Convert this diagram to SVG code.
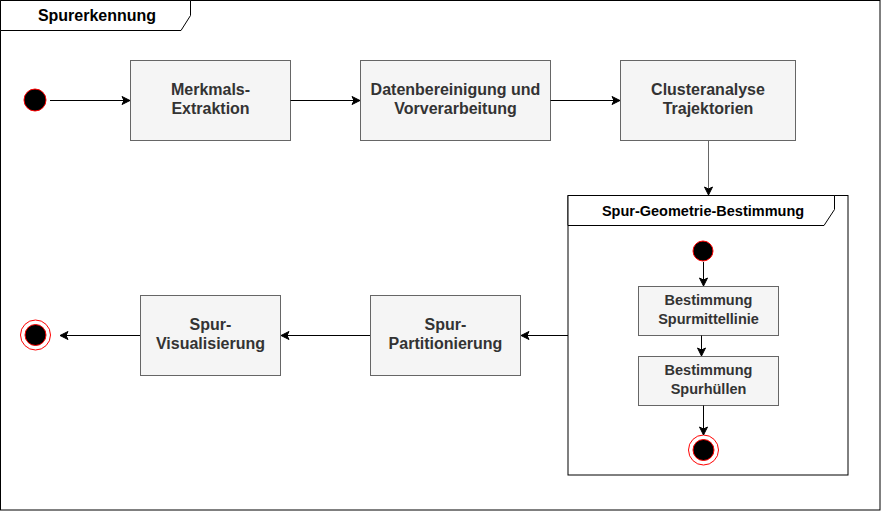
<svg xmlns="http://www.w3.org/2000/svg" width="881" height="511" viewBox="0 0 881 511">
<defs>
<style>
.frame{fill:#fff;stroke:#000;stroke-width:1}
.tab{fill:#fff;stroke:#000;stroke-width:1}
.box{fill:#f5f5f5;stroke:#666;stroke-width:1}
.t{font-family:"Liberation Sans",Arial,sans-serif;font-weight:bold;fill:#333;text-anchor:middle}
.big{font-size:16px}
.small{font-size:14.5px}
.title{font-family:"Liberation Sans",Arial,sans-serif;font-weight:bold;fill:#000;text-anchor:middle}
.edge{fill:none;stroke:#000;stroke-width:1}
.start{fill:#000;stroke:#ff0000;stroke-width:1}
.endo{fill:#fff;stroke:#ff0000;stroke-width:1}
</style>
<marker id="arr" markerWidth="10" markerHeight="10" refX="9" refY="5" orient="auto" markerUnits="userSpaceOnUse">
<path d="M1,1 L9,5 L1,9 L3,5 Z" fill="#000" stroke="#000" stroke-width="1"/>
</marker>
</defs>
<g id="frame-spurerkennung">
<rect class="frame" x="0.5" y="0.5" width="879.5" height="509.5"/>
<path class="tab" d="M0.5,0.5 H190.5 V15.5 L181,30.5 H0.5 Z"/>
<text class="title big" x="97" y="21">Spurerkennung</text>
</g>
<g id="frame-geometrie">
<rect class="frame" x="568" y="195.5" width="280" height="279.5"/>
<path class="tab" d="M568,195.5 H834.5 V209.5 L824,225.5 H568 Z"/>
<text class="title small" x="703" y="216">Spur-Geometrie-Bestimmung</text>
</g>
<g id="start">
<circle class="start" cx="35" cy="100" r="11"/>
</g>
<g id="merkmals">
<rect class="box" x="130.5" y="60.5" width="160" height="80"/>
<text class="t big" x="210.5" y="95">Merkmals-</text>
<text class="t big" x="210.5" y="114">Extraktion</text>
</g>
<g id="daten">
<rect class="box" x="360.5" y="60.5" width="190" height="80"/>
<text class="t big" x="455.5" y="95">Datenbereinigung und</text>
<text class="t big" x="455.5" y="114">Vorverarbeitung</text>
</g>
<g id="cluster">
<rect class="box" x="620.5" y="60.5" width="175" height="80"/>
<text class="t big" x="708" y="95">Clusteranalyse</text>
<text class="t big" x="708" y="114">Trajektorien</text>
</g>
<g id="inner-start">
<circle class="start" cx="703" cy="251" r="10"/>
</g>
<g id="mittellinie">
<rect class="box" x="638.5" y="286.5" width="140" height="49"/>
<text class="t small" x="708.5" y="305">Bestimmung</text>
<text class="t small" x="708.5" y="324">Spurmittellinie</text>
</g>
<g id="huellen">
<rect class="box" x="638.5" y="356.5" width="140" height="49"/>
<text class="t small" x="708.5" y="375">Bestimmung</text>
<text class="t small" x="708.5" y="394">Spurhüllen</text>
</g>
<g id="inner-end">
<circle class="endo" cx="703.5" cy="450" r="15"/>
<circle class="start" cx="703.5" cy="450" r="10.5"/>
</g>
<g id="partitionierung">
<rect class="box" x="370.5" y="295.5" width="150" height="80"/>
<text class="t big" x="445.5" y="330">Spur-</text>
<text class="t big" x="445.5" y="349">Partitionierung</text>
</g>
<g id="visualisierung">
<rect class="box" x="140.5" y="295.5" width="140" height="80"/>
<text class="t big" x="210.5" y="330">Spur-</text>
<text class="t big" x="210.5" y="349">Visualisierung</text>
</g>
<g id="end">
<circle class="endo" cx="35.5" cy="335" r="15"/>
<circle class="start" cx="35.5" cy="335" r="10.5"/>
</g>
<g id="connectors">
<path class="edge" d="M50,100.5 H130" marker-end="url(#arr)"/>
<path class="edge" d="M290.5,100.5 H360" marker-end="url(#arr)"/>
<path class="edge" d="M550.5,100.5 H620" marker-end="url(#arr)"/>
<path class="edge" d="M708.5,140.5 V195" marker-end="url(#arr)" style="stroke:#666"/>
<path class="edge" d="M703.5,262 V286" marker-end="url(#arr)"/>
<path class="edge" d="M701.5,335.5 V356" marker-end="url(#arr)"/>
<path class="edge" d="M703.5,405.5 V435" marker-end="url(#arr)"/>
<path class="edge" d="M568,335.5 H521" marker-end="url(#arr)"/>
<path class="edge" d="M370,335.5 H281" marker-end="url(#arr)"/>
<path class="edge" d="M140,335.5 H60" marker-end="url(#arr)"/>
</g>
</svg>
